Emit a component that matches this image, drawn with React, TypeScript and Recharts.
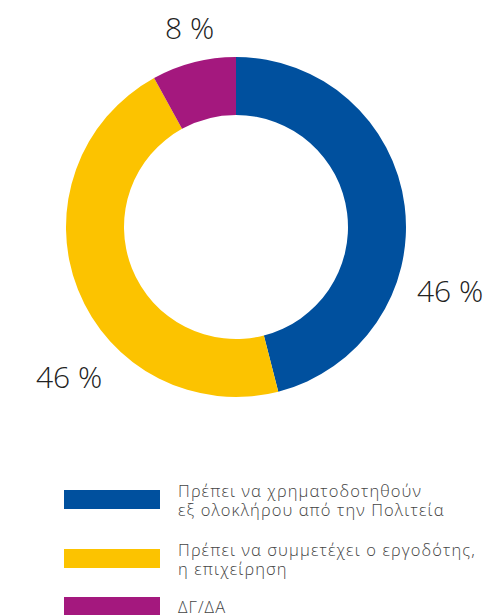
import React from 'react';
import { PieChart, Pie, Cell } from 'recharts';

const categories = [
    'Πρέπει να χρηματοδοτηθούν\nεξ ολοκλήρου από την Πολιτεία',
    'Πρέπει να συμμετέχει ο εργοδότης,\nη επιχείρηση',
    'ΔΓ/ΔΑ',
];
const values = [46, 46, 8];
const colors = ['#00509E', '#FCC300', '#A4187E'];

// where each percentage label sits, relative to the pie centre
const labelOffsets = [
    { dx: 181, dy: 75 },
    { dx: -200, dy: 161 },
    { dx: -71, dy: -188 },
];
const legendRowHeights = [59, 59, 36];

const FONT = '"Open Sans", "Noto Sans", sans-serif';

const renderLabel = (props: any) => {
    const { cx, cy, index, value } = props;
    const off = labelOffsets[index];
    return (
        <text
            x={cx + off.dx}
            y={cy + off.dy}
            textAnchor="start"
            fill="#222"
            fontSize={30}
            fontWeight={300}
            fontFamily={FONT}
        >
            {`${value} %`}
        </text>
    );
};

const data = categories.map((name, i) => ({ name, value: values[i] }));

export default function App() {
    return (
        <div style={{ position: 'absolute', left: 0, top: 0, width: 487, height: 615, background: '#fff', overflow: 'hidden' }}>
            <PieChart width={487} height={460} margin={{ top: 0, right: 0, bottom: 0, left: 0 }}>
                <Pie
                    data={data}
                    dataKey="value"
                    nameKey="name"
                    cx={236}
                    cy={227}
                    innerRadius={112}
                    outerRadius={170}
                    startAngle={90}
                    endAngle={-270}
                    stroke="none"
                    label={renderLabel}
                    labelLine={false}
                    isAnimationActive={false}
                >
                    {data.map((d, i) => (
                        <Cell key={i} fill={colors[i]} />
                    ))}
                </Pie>
            </PieChart>
            <div style={{ position: 'absolute', left: 0, top: 470, fontFamily: FONT, fontWeight: 300 }}>
                {categories.map((cat, i) => (
                    <div key={i} style={{ display: 'flex', alignItems: 'center', height: legendRowHeights[i] }}>
                        <div style={{ width: 96, height: 19, background: colors[i], marginLeft: 64, marginRight: 18, flexShrink: 0 }} />
                        <div style={{ fontSize: 16.5, letterSpacing: 1.1, lineHeight: '19px', color: '#444', whiteSpace: 'pre' }}>{cat}</div>
                    </div>
                ))}
            </div>
        </div>
    );
}
